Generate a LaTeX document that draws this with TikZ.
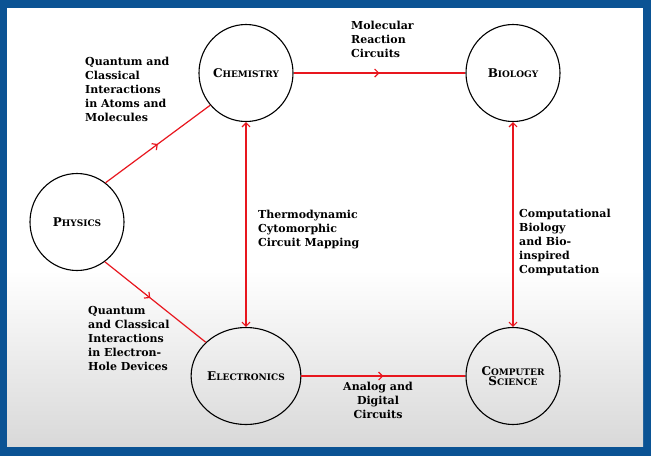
\documentclass[tikz,border=0pt]{standalone}
\usepackage{fontspec}
\setmainfont{DejaVu Serif}
\usepackage{xcolor}
\usetikzlibrary{shapes.geometric}
\usetikzlibrary{arrows.meta}
\usetikzlibrary{decorations.markings}
\definecolor{slideblue}{RGB}{11,83,148}
\definecolor{linkred}{RGB}{232,22,30}
\newcommand{\fakesc}[2]{{\fontsize{12}{14}\selectfont #1}{\fontsize{9}{11}\selectfont #2}}
\tikzset{field/.style={ellipse,draw=black,line width=1.1pt,inner sep=0pt,
   minimum width=94pt,minimum height=97pt,font=\bfseries},
 link/.style={draw=linkred,line width=1.2pt},
 midarrow/.style={postaction={decorate},decoration={markings,
   mark=at position #1 with {\arrow{Straight Barb[length=4pt,width=8pt]}}}},
 midarrow/.default=0.5,
 bothends/.style={{Straight Barb[length=4pt,width=8pt]}-{Straight Barb[length=4pt,width=8pt]}},
 linklabel/.style={anchor=north west,inner sep=0pt,align=left,
   font=\fontsize{11}{14}\selectfont\bfseries},
 }

\begin{document}
\begin{tikzpicture}[x=1pt,y=-1pt]
        \useasboundingbox (0,0) rectangle (651,456);
        \fill[slideblue] (0,0) rectangle (651,456);
        \fill[white] (7,8) rectangle (643,270);
        \shade[top color=white,bottom color=black!15] (7,270) rectangle (643,446);

        \node[field] (physics) at (77,222) {\fakesc{P}{HYSICS}};
        \node[field] (chemistry) at (246,73) {\fakesc{C}{HEMISTRY}};
        \node[field] (biology) at (513,73) {\fakesc{B}{IOLOGY}};
        \node[field] (electronics) at (246,376) {\fakesc{E}{LECTRONICS}};
        \node[field,align=center] (compsci) at (513,376) {\fakesc{C}{OMPUTER}\\[-2pt]\fakesc{S}{CIENCE}};

        \draw[link,midarrow] (physics.54) -- (chemistry.222);
        \draw[link,midarrow=0.45] (physics.-55) -- (electronics.140);
        \draw[link,midarrow] (chemistry.east) -- (biology.west);
        \draw[link,midarrow] (electronics.east) -- (compsci.west);
        \draw[link,bothends] (chemistry.south) -- (electronics.north);
        \draw[link,bothends] (biology.south) -- (compsci.north);

        \node[linklabel] (atoms) at (85,57) {Quantum and\\Classical\\Interactions\\in Atoms and\\Molecules};
        \node[linklabel] (molecular) at (351,21) {Molecular\\Reaction\\Circuits};
        \node[linklabel] (thermo) at (258,210) {Thermodynamic\\Cytomorphic\\Circuit Mapping};
        \node[linklabel] (compbio) at (519,209) {Computational\\Biology\\and Bio-\\inspired\\Computation};
        \node[linklabel] (holes) at (88,306) {Quantum\\and Classical\\Interactions\\in Electron-\\Hole Devices};
        \node[linklabel,anchor=north,align=center] (analog) at (378,382) {Analog and\\Digital\\Circuits};
    \end{tikzpicture}
\end{document}
